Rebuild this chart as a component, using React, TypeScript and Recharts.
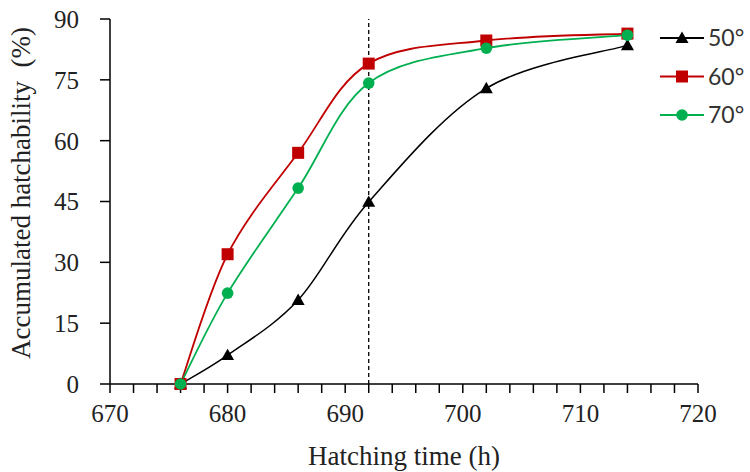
import { LineChart, Line, XAxis, YAxis, ReferenceLine, Label } from "recharts";

const hours = [676, 680, 686, 692, 702, 714];
const deg50 = [0, 7.1, 20.7, 44.9, 72.9, 83.5];
const deg60 = [0, 32, 57, 79, 84.7, 86.4];
const deg70 = [0, 22.4, 48.3, 74.2, 82.8, 86];
const xTicks = [670, 672, 674, 676, 678, 680, 682, 684, 686, 688, 690, 692, 694, 696, 698, 700, 702, 704, 706, 708, 710, 712, 714, 716, 718, 720];
const yTicks = [0, 15, 30, 45, 60, 75, 90];
const markerLine = 692;

const data = hours.map((h, i) => ({ h, d50: deg50[i], d60: deg60[i], d70: deg70[i] }));

const SERIF = "'Liberation Serif', 'Times New Roman', serif";
const SANS = "Lato, 'Noto Sans', sans-serif";

const RED = "#C00000";
const GREEN = "#00B050";
const BLACK = "#000000";

// Excel-style smoothed line (Catmull-Rom, control points at 1/6 of neighbour span)
function excelSmooth(context: any) {
  let pts: number[][] = [];
  return {
    areaStart() {},
    areaEnd() {},
    lineStart() {
      pts = [];
    },
    point(x: number, y: number) {
      pts.push([+x, +y]);
    },
    lineEnd() {
      if (!pts.length) return;
      context.moveTo(pts[0][0], pts[0][1]);
      for (let i = 0; i < pts.length - 1; i++) {
        const p0 = pts[i - 1] || pts[i];
        const p1 = pts[i];
        const p2 = pts[i + 1];
        const p3 = pts[i + 2] || p2;
        context.bezierCurveTo(
          p1[0] + (p2[0] - p0[0]) / 6,
          p1[1] + (p2[1] - p0[1]) / 6,
          p2[0] - (p3[0] - p1[0]) / 6,
          p2[1] - (p3[1] - p1[1]) / 6,
          p2[0],
          p2[1]
        );
      }
    },
  };
}

function Triangle({ cx, cy, fill }: any) {
  if (cx == null || cy == null) return null;
  const s = 6.5;
  return <path d={`M${cx},${cy - s} L${cx + s},${cy + s * 0.75} L${cx - s},${cy + s * 0.75} Z`} fill={fill} />;
}

function Square({ cx, cy, fill }: any) {
  if (cx == null || cy == null) return null;
  const s = 6;
  return <rect x={cx - s} y={cy - s} width={s * 2} height={s * 2} fill={fill} />;
}

function Circle({ cx, cy, fill }: any) {
  if (cx == null || cy == null) return null;
  return <circle cx={cx} cy={cy} r={5.8} fill={fill} />;
}

const legendItems = [
  { name: "50°", color: BLACK, Marker: Triangle },
  { name: "60°", color: RED, Marker: Square },
  { name: "70°", color: GREEN, Marker: Circle },
];

// legend sits over the top-right corner of the plot, like the original
function LegendBox() {
  return (
    <svg width={92} height={110} style={{ position: "absolute", left: 658, top: 24 }}>
      {legendItems.map((it, i) => {
        const y = 14 + i * 38.5;
        const M = it.Marker;
        return (
          <g key={it.name}>
            <line x1={2} x2={46} y1={y} y2={y} stroke={it.color} strokeWidth={2} />
            <M cx={24} cy={y} fill={it.color} />
            <text x={50} y={y} dy="0.36em" fontFamily={SANS} fontSize={23} fill="#333">
              {it.name}
            </text>
          </g>
        );
      })}
    </svg>
  );
}

export default function App() {
  return (
    <div style={{ position: "absolute", left: 0, top: 0, width: 750, height: 472, background: "#fff" }}>
      <LineChart width={750} height={472} data={data} margin={{ top: 19, right: 52, left: 0, bottom: 8 }}>
        <XAxis
          dataKey="h"
          type="number"
          domain={[670, 720]}
          ticks={xTicks}
          interval={0}
          tickFormatter={(v: number) => (v % 10 === 0 ? String(v) : "")}
          height={80}
          tickSize={9}
          tickMargin={11}
          stroke={BLACK}
          strokeWidth={1.5}
          tick={{ fontFamily: SERIF, fontSize: 25, fill: "#222" }}
        >
          <Label
            content={() => (
              <text x={404} y={455} textAnchor="middle" dy="0.36em" fontFamily={SERIF} fontSize={27} fill="#222">
                Hatching time (h)
              </text>
            )}
          />
        </XAxis>
        <YAxis
          type="number"
          domain={[0, 90]}
          ticks={yTicks}
          interval={0}
          width={110}
          tickSize={10}
          tickMargin={21}
          stroke={BLACK}
          strokeWidth={1.5}
          tick={{ fontFamily: SERIF, fontSize: 25, fill: "#222" }}
        >
          <Label
            content={() => (
              <text
                x={20}
                y={193}
                transform="rotate(-90 20 193)"
                textAnchor="middle"
                dy="0.36em"
                fontFamily={SERIF}
                fontSize={27}
                fill="#222"
              >
                {"Accumulated hatchability\u00a0 (%)"}
              </text>
            )}
          />
        </YAxis>
        <ReferenceLine x={markerLine} stroke={BLACK} strokeWidth={1.3} strokeDasharray="4 3" />
        <Line
          type={excelSmooth as any}
          dataKey="d50"
          name="50°"
          stroke={BLACK}
          strokeWidth={1.5}
          dot={<Triangle fill={BLACK} />}
          isAnimationActive={false}
        />
        <Line
          type={excelSmooth as any}
          dataKey="d60"
          name="60°"
          stroke={RED}
          strokeWidth={1.8}
          dot={<Square fill={RED} />}
          isAnimationActive={false}
        />
        <Line
          type={excelSmooth as any}
          dataKey="d70"
          name="70°"
          stroke={GREEN}
          strokeWidth={1.8}
          dot={<Circle fill={GREEN} />}
          isAnimationActive={false}
        />
      </LineChart>
      <LegendBox />
    </div>
  );
}
